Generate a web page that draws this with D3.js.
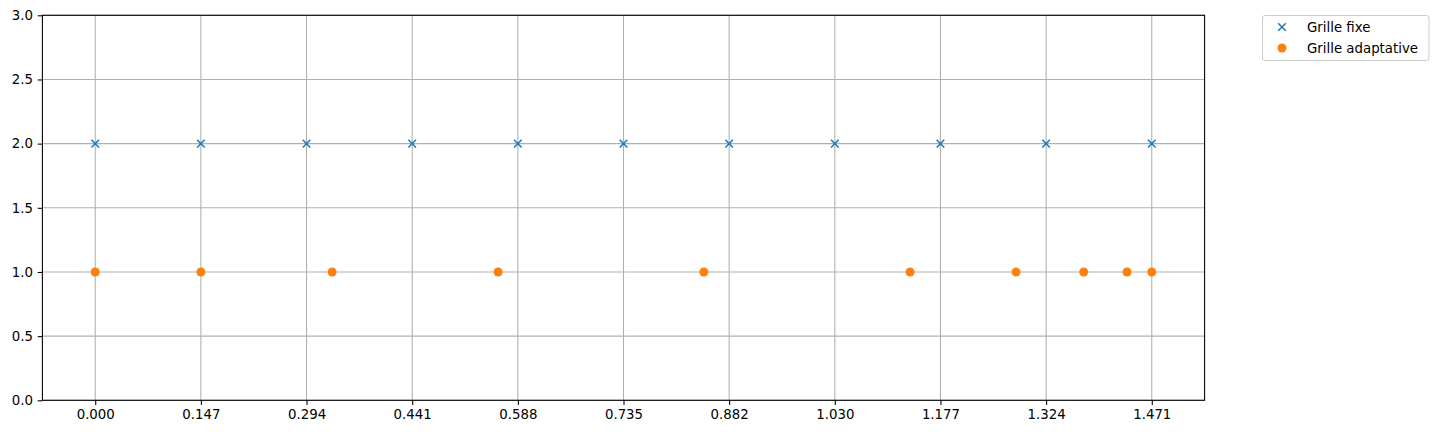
<html>
  <head>
    <meta charset="utf-8" />
    <script src="https://d3js.org/d3.v7.min.js"></script>
  </head>
  <style>
    body { margin: 0; background: #fff; }
    svg { font-family: "DejaVu Sans", sans-serif; }
  </style>
  <body>
    <svg width="1438" height="434"></svg>
    <script>
      // grille fixe : 11 points uniformes
      var fixedX = [0, 0.147075, 0.29415, 0.441225, 0.5883, 0.735375, 0.88245, 1.029525, 1.1766, 1.323675, 1.47075];
      var fixedY = 2;
      // grille adaptative
      var adaptX = [0, 0.147075, 0.3298, 0.5608, 0.8472, 1.1343, 1.2818, 1.3760, 1.4363, 1.47075];
      var adaptY = 1;
      var xTickValues = fixedX;
      var xTickLabels = ["0.000", "0.147", "0.294", "0.441", "0.588", "0.735", "0.882", "1.030", "1.177", "1.324", "1.471"];
      var yTicks = [0, 0.5, 1, 1.5, 2, 2.5, 3];
      var seriesNames = ["Grille fixe", "Grille adaptative"];

      var plotL = 42.4, plotR = 1204.6, plotT = 15.3, plotB = 400.3;
      var svg = d3.select("svg");

      var span = 1.47075;
      var xScale = d3.scaleLinear()
        .domain([-0.05 * span, span * 1.05])
        .range([plotL, plotR]);
      var yScale = d3.scaleLinear().domain([0, 3]).range([plotB, plotT]);

      // grille
      svg.append("g").selectAll("line").data(xTickValues).enter().append("line")
        .attr("x1", function (d) { return xScale(d); })
        .attr("x2", function (d) { return xScale(d); })
        .attr("y1", plotT).attr("y2", plotB)
        .style("stroke", "#b0b0b0").style("stroke-width", "1.07px");
      svg.append("g").selectAll("line").data(yTicks).enter().append("line")
        .attr("y1", function (d) { return yScale(d); })
        .attr("y2", function (d) { return yScale(d); })
        .attr("x1", plotL).attr("x2", plotR)
        .style("stroke", "#b0b0b0").style("stroke-width", "1.07px");

      // axes
      var xAxis = d3.axisBottom(xScale)
        .tickValues(xTickValues)
        .tickFormat(function (d, i) { return xTickLabels[i]; })
        .tickSizeInner(4.67).tickSizeOuter(0).tickPadding(4.7);
      var yAxis = d3.axisLeft(yScale)
        .tickValues(yTicks)
        .tickFormat(d3.format(".1f"))
        .tickSizeInner(4.67).tickSizeOuter(0).tickPadding(4.7);

      var gx = svg.append("g").attr("transform", "translate(0," + plotB + ")").call(xAxis);
      var gy = svg.append("g").attr("transform", "translate(" + plotL + ",0)").call(yAxis);
      [gx, gy].forEach(function (g) {
        g.select(".domain").remove();
        g.selectAll(".tick line").style("stroke", "#000").style("stroke-width", "1.07px");
        g.selectAll(".tick text").style("font-size", "13.33px").style("font-family", "DejaVu Sans").attr("fill", "#000");
      });

      // cadre
      svg.append("rect")
        .attr("x", plotL).attr("y", plotT)
        .attr("width", plotR - plotL).attr("height", plotB - plotT)
        .style("fill", "none").style("stroke", "#000").style("stroke-width", "1.07px");

      // marqueurs x
      function cross(g, cx, cy) {
        var s = 3.8;
        g.append("path")
          .attr("d", "M" + (cx - s) + "," + (cy - s) + "L" + (cx + s) + "," + (cy + s) +
            "M" + (cx - s) + "," + (cy + s) + "L" + (cx + s) + "," + (cy - s))
          .style("stroke", "#1f77b4").style("stroke-width", "1.5px").style("fill", "none");
      }
      var gFixed = svg.append("g");
      fixedX.forEach(function (d) { cross(gFixed, xScale(d), yScale(fixedY)); });

      svg.append("g").selectAll("circle").data(adaptX).enter().append("circle")
        .attr("cx", function (d) { return xScale(d); })
        .attr("cy", yScale(adaptY))
        .attr("r", 4.5)
        .style("fill", "#ff7f0e");

      // légende
      var leg = svg.append("g");
      leg.append("rect")
        .attr("x", 1262.5).attr("y", 15.5).attr("width", 166.5).attr("height", 45)
        .attr("rx", 2.5)
        .style("fill", "#fff").style("stroke", "#cccccc").style("stroke-width", "1px");
      cross(leg, 1282, 27);
      leg.append("circle").attr("cx", 1282).attr("cy", 48).attr("r", 4.5).style("fill", "#ff7f0e");
      leg.selectAll("text").data(seriesNames).enter().append("text")
        .attr("x", 1307)
        .attr("y", function (d, i) { return 27 + i * 21; })
        .attr("dy", "0.35em")
        .style("font-size", "13.33px")
        .text(function (d) { return d; });
    </script>
  </body>
</html>
